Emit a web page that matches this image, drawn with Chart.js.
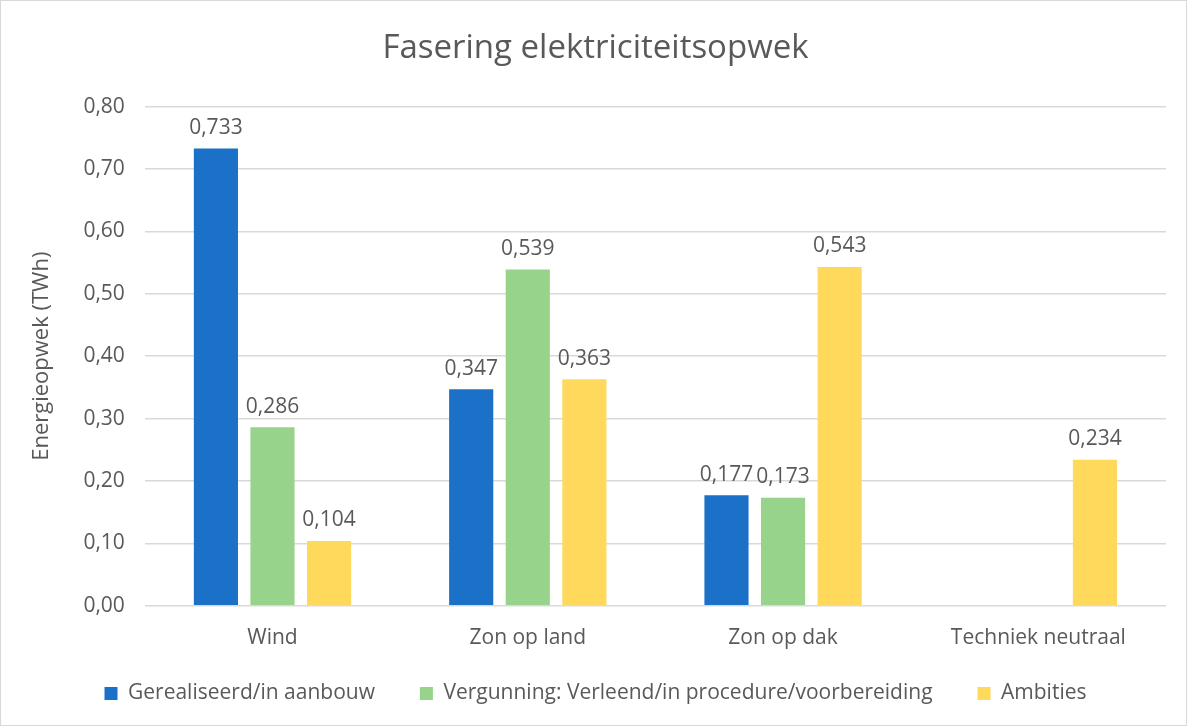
<!DOCTYPE html>
<html>
<head>
<meta charset="utf-8">
<script src="https://cdn.jsdelivr.net/npm/chart.js@4/dist/chart.umd.min.js"></script>
<style>
  body { margin: 0; background: #fff; }
  #wrap { width: 1185px; height: 724px; border: 1px solid #d9d9d9; position: relative; }
</style>
</head>
<body>
<div id="wrap"><canvas id="fasering"></canvas></div>
<script>
var categorieen = ["Wind", "Zon op land", "Zon op dak", "Techniek neutraal"];
var gerealiseerd = [0.733, 0.347, 0.177, null];
var vergunning = [0.286, 0.539, 0.173, null];
var ambities = [0.104, 0.363, 0.543, 0.234];

var tekstKleur = "#595959";
var lettertype = "'Open Sans', 'Liberation Sans', sans-serif";

// labels boven de staven
var waardeLabels = {
    id: "waardeLabels",
    afterDatasetsDraw: function (chart) {
        var ctx = chart.ctx;
        ctx.save();
        ctx.font = "21px " + lettertype;
        ctx.fillStyle = tekstKleur;
        ctx.textAlign = "center";
        ctx.textBaseline = "bottom";
        chart.data.datasets.forEach(function (ds, i) {
            chart.getDatasetMeta(i).data.forEach(function (bar, j) {
                var v = ds.data[j];
                if (v === null || v === undefined) return;
                ctx.fillText(v.toFixed(3).replace(".", ","), bar.x, bar.y - 10);
            });
        });
        ctx.restore();
    }
};

// legenda wat compacter in de hoogte, maar met brede tussenruimte
var legendaPlek = {
    id: "legendaPlek",
    beforeUpdate: function (chart) {
        var leg = chart.legend;
        if (!leg || leg._aangepast) return;
        var fit = leg.fit;
        leg.fit = function () { fit.call(this); this.height -= 14; };
        leg._aangepast = true;
    },
    afterLayout: function (chart) {
        chart.legend.top -= 25;
    }
};

new Chart(document.getElementById("fasering"), {
    type: 'bar',
    data: {
        labels: categorieen,
        datasets: [{
            label: "Gerealiseerd/in aanbouw",
            data: gerealiseerd,
            backgroundColor: "#1B70C8"
        }, {
            label: "Vergunning: Verleend/in procedure/voorbereiding",
            data: vergunning,
            backgroundColor: "#98D38B"
        }, {
            label: "Ambities",
            data: ambities,
            backgroundColor: "#FFD95C"
        }]
    },
    plugins: [waardeLabels, legendaPlek],
    options: {
        responsive: true,
        maintainAspectRatio: false,
        animation: false,
        categoryPercentage: 0.665,
        barPercentage: 0.78,
        layout: { padding: { left: 24, right: 20, top: 28, bottom: 0 } },
        plugins: {
            title: {
                display: true,
                text: 'Fasering elektriciteitsopwek',
                color: tekstKleur,
                font: { family: lettertype, size: 33, weight: 'normal' },
                padding: { top: 0, bottom: 38 }
            },
            legend: {
                position: 'bottom',
                labels: {
                    color: tekstKleur,
                    font: { family: lettertype, size: 21 },
                    boxWidth: 13,
                    boxHeight: 13,
                    padding: 45
                }
            },
            tooltip: { enabled: false }
        },
        scales: {
            x: {
                grid: { display: false },
                border: { display: false },
                ticks: {
                    color: tekstKleur,
                    font: { family: lettertype, size: 21 },
                    padding: 12
                }
            },
            y: {
                min: 0,
                max: 0.8,
                ticks: {
                    stepSize: 0.1,
                    color: tekstKleur,
                    font: { family: lettertype, size: 21 },
                    padding: 20,
                    callback: function (v) { return v.toFixed(2).replace(".", ","); }
                },
                grid: { color: "#d9d9d9", lineWidth: 1.5, drawTicks: false },
                border: { display: false },
                title: {
                    display: true,
                    text: "Energieopwek (TWh)",
                    color: tekstKleur,
                    font: { family: lettertype, size: 22 },
                    padding: { bottom: 8 }
                }
            }
        }
    }
});
</script>
</body>
</html>
